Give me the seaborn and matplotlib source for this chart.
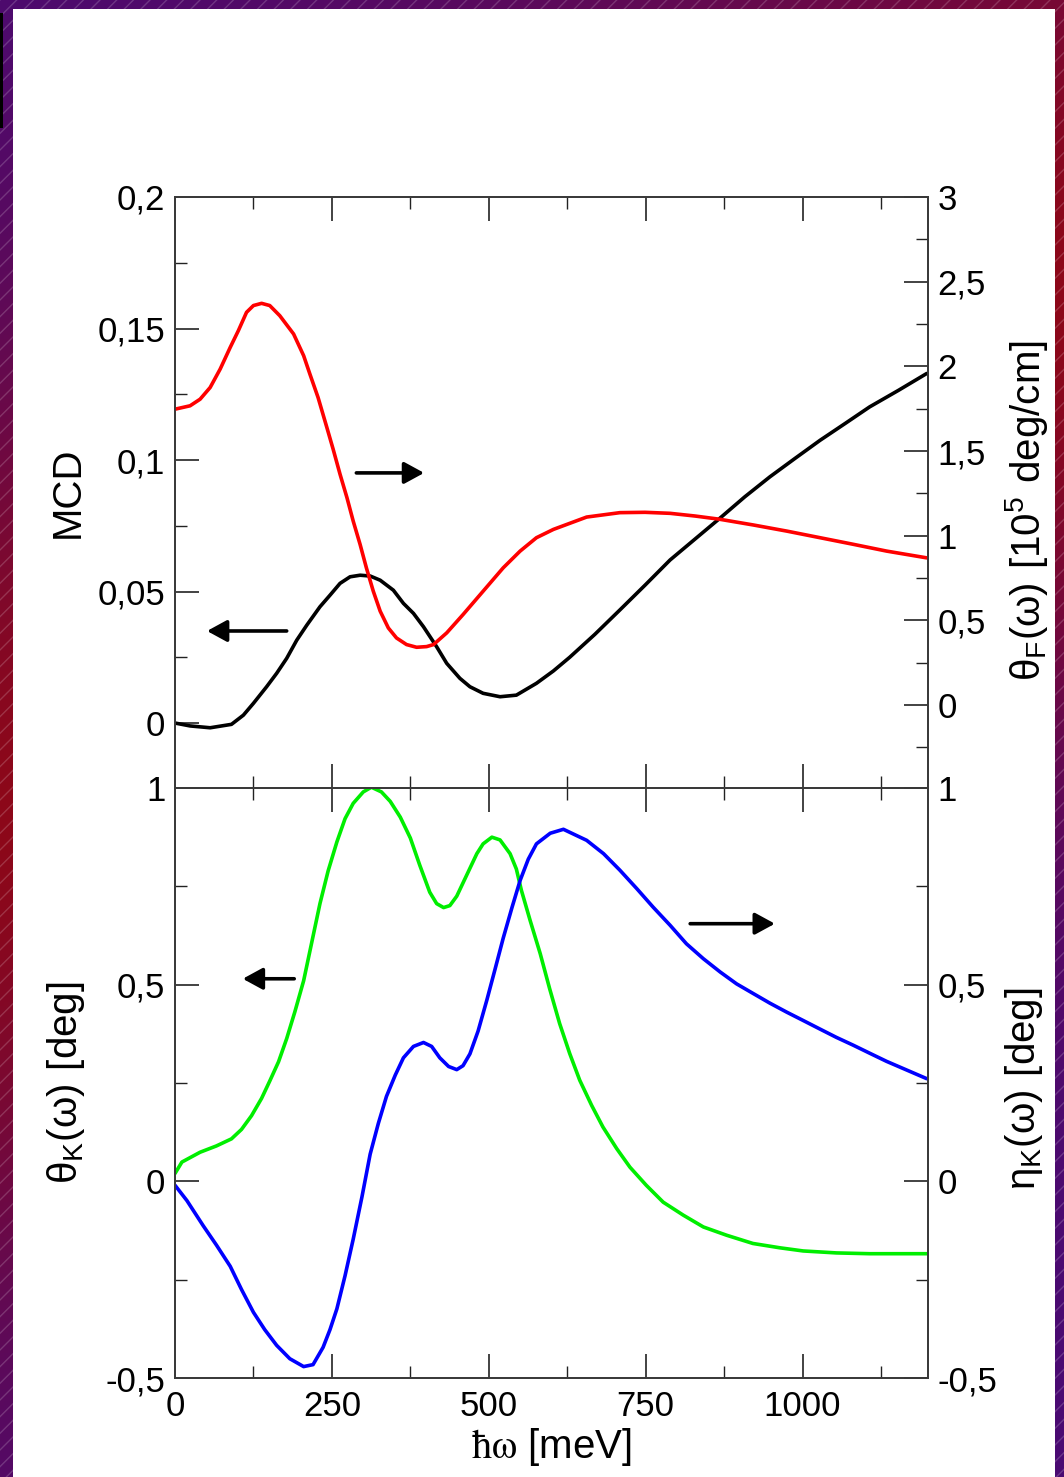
import numpy as np
import matplotlib
matplotlib.use('Agg')
import matplotlib.pyplot as plt
import matplotlib.ticker as mticker
from matplotlib.patches import Rectangle
import seaborn as sns

# values (energy in meV)
mcd_energy = [0, 24, 56, 90, 109, 125, 146, 162, 178, 194, 210, 231, 247, 263, 279, 295,
              311, 327, 348, 364, 380, 396, 417, 433, 454, 470, 491, 518, 544, 576, 603,
              629, 669, 709, 749, 789, 829, 868, 908, 948, 988, 1028, 1068, 1107, 1153,
              1198]
mcd_value = [0.0, -0.0011, -0.0018, -0.0005, 0.0030, 0.0075, 0.0138, 0.0189, 0.0246,
             0.0315, 0.0372, 0.0442, 0.0486, 0.0531, 0.0556, 0.0562, 0.0559, 0.0543,
             0.0505, 0.0455, 0.0417, 0.0366, 0.029, 0.0227, 0.017, 0.0138, 0.0113,
             0.0100, 0.0106, 0.0151, 0.0198, 0.0250, 0.0337, 0.043, 0.0524, 0.062,
             0.070, 0.0778, 0.086, 0.0936, 0.1006, 0.1075, 0.1139, 0.1202, 0.1265, 0.1329]

faraday_energy = [0, 24, 40, 56, 72, 88, 101, 114, 125, 138, 151, 167, 189, 205, 215,
                  228, 242, 252, 263, 274, 284, 295, 305, 316, 327, 340, 353, 369, 385,
                  401, 412, 433, 459, 491, 523, 550, 576, 603, 656, 709, 749, 789, 829,
                  868, 922, 975, 1028, 1081, 1134, 1198]
faraday_value = [1.747, 1.767, 1.806, 1.875, 1.984, 2.112, 2.211, 2.319, 2.359, 2.372,
                 2.359, 2.299, 2.191, 2.063, 1.954, 1.816, 1.639, 1.511, 1.363, 1.225,
                 1.086, 0.948, 0.810, 0.672, 0.554, 0.455, 0.396, 0.357, 0.341, 0.345,
                 0.357, 0.426, 0.534, 0.672, 0.810, 0.909, 0.988, 1.037, 1.110, 1.136,
                 1.138, 1.132, 1.116, 1.097, 1.063, 1.027, 0.988, 0.949, 0.909, 0.869]

kerr_rot_energy = [0, 11, 40, 66, 90, 106, 122, 138, 151, 165, 178, 191, 205, 218, 231,
                   244, 258, 271, 284, 300, 313, 329, 343, 359, 375, 390, 406, 417, 428,
                   438, 449, 465, 481, 491, 505, 518, 534, 544, 552, 566, 582, 597, 613,
                   629, 645, 664, 682, 704, 725, 751, 778, 810, 842, 879, 921, 964, 1001,
                   1054, 1107, 1160, 1198]
kerr_rot_value = [0.020, 0.049, 0.074, 0.090, 0.108, 0.132, 0.167, 0.211, 0.255, 0.304,
                  0.363, 0.431, 0.510, 0.608, 0.706, 0.789, 0.863, 0.922, 0.961, 0.990,
                  1.002, 0.990, 0.966, 0.926, 0.873, 0.804, 0.735, 0.706, 0.696, 0.701,
                  0.725, 0.779, 0.833, 0.858, 0.875, 0.868, 0.833, 0.794, 0.740, 0.663,
                  0.579, 0.490, 0.401, 0.325, 0.257, 0.193, 0.138, 0.083, 0.036, -0.010,
                  -0.053, -0.086, -0.116, -0.137, -0.158, -0.169, -0.177, -0.182, -0.184,
                  -0.184, -0.184]

kerr_ell_energy = [0, 19, 45, 66, 88, 106, 125, 143, 162, 183, 205, 220, 236, 247, 258,
                   271, 284, 298, 311, 324, 337, 351, 364, 380, 396, 409, 422, 436, 449,
                   459, 470, 483, 497, 510, 523, 537, 550, 563, 576, 598, 619, 656, 683,
                   709, 736, 762, 789, 815, 842, 869, 895, 922, 948, 975, 1001, 1028,
                   1054, 1081, 1108, 1134, 1166, 1198]
kerr_ell_value = [-0.010, -0.049, -0.113, -0.162, -0.216, -0.275, -0.333, -0.377,
                  -0.417, -0.451, -0.471, -0.466, -0.422, -0.377, -0.324, -0.240, -0.147,
                  -0.039, 0.069, 0.147, 0.216, 0.270, 0.314, 0.343, 0.353, 0.343, 0.314,
                  0.292, 0.284, 0.294, 0.324, 0.382, 0.461, 0.539, 0.618, 0.696, 0.765,
                  0.819, 0.858, 0.885, 0.895, 0.867, 0.833, 0.791, 0.744, 0.697, 0.651,
                  0.604, 0.566, 0.532, 0.502, 0.477, 0.453, 0.430, 0.409, 0.387, 0.366,
                  0.346, 0.325, 0.305, 0.283, 0.261]

x_major = [0, 250, 500, 750, 1000]
x_minor = [125, 375, 625, 875, 1125]
mcd_major = [0, 0.05, 0.1, 0.15, 0.2]
mcd_minor = [0.025, 0.075, 0.125, 0.175]
far_major = [0, 0.5, 1, 1.5, 2, 2.5, 3]
far_minor = [-0.25, 0.25, 0.75, 1.25, 1.75, 2.25, 2.75]
kerr_major = [-0.5, 0, 0.5, 1]
kerr_minor = [-0.25, 0.25, 0.75]

sns.set_style('ticks')
plt.rcParams['font.family'] = ['Liberation Sans', 'DejaVu Sans']
plt.rcParams['text.color'] = 'black'
plt.rcParams['axes.labelcolor'] = 'black'
plt.rcParams['xtick.color'] = 'black'
plt.rcParams['ytick.color'] = 'black'
plt.rcParams['lines.solid_joinstyle'] = 'round'
plt.rcParams['lines.solid_capstyle'] = 'round'

fig = plt.figure(figsize=(10.64, 14.77), dpi=100)

# slide background: purple/red gradient with faint stripes and a white sheet
bg = fig.add_axes([0, 0, 1, 1], zorder=-10)
bg.set_axis_off()
yy, xx = np.mgrid[0:1477:4, 0:1064:4]
s = yy + 0.5 * xx
wgt = np.exp(-((s - 820) / 480.0) ** 2)
purple = np.array([0.29, 0.04, 0.45])
red = np.array([0.55, 0.03, 0.10])
img = purple + wgt[..., None] * (red - purple)
bg.imshow(img, extent=[0, 1, 0, 1], aspect='auto', origin='upper')
bg.add_patch(Rectangle((0, 0), 1, 1, transform=bg.transAxes, facecolor='none',
                       edgecolor=(1, 1, 1, 0.18), hatch='//', lw=0))
bg.add_patch(Rectangle((13 / 1064, 0), (1055 - 13) / 1064, 1 - 9 / 1477,
                       transform=bg.transAxes, facecolor='white', lw=0, zorder=3))
bg.add_patch(Rectangle((0, 1 - 128 / 1477), 2.5 / 1064, 115 / 1477,
                       transform=bg.transAxes, facecolor='black', lw=0, zorder=3))
bg.set_xlim(0, 1)
bg.set_ylim(0, 1)

left, width = 175 / 1064, 753 / 1064
ax_top = fig.add_axes([left, 1 - 788 / 1477, width, 591 / 1477])
ax_bot = fig.add_axes([left, 1 - 1378 / 1477, width, 590 / 1477])
ax_top2 = ax_top.twinx()
ax_bot2 = ax_bot.twinx()


def comma_fmt(v, pos):
    return f"{v:g}".replace('.', ',')


sns.lineplot(x=mcd_energy, y=mcd_value, ax=ax_top, color='black', lw=2.6,
             estimator=None, legend=False)
sns.lineplot(x=faraday_energy, y=faraday_value, ax=ax_top2, color='#ff0000', lw=2.6,
             estimator=None, legend=False)
sns.lineplot(x=kerr_rot_energy, y=kerr_rot_value, ax=ax_bot, color='#00ee00', lw=2.6,
             estimator=None, legend=False)
sns.lineplot(x=kerr_ell_energy, y=kerr_ell_value, ax=ax_bot2, color='#0000ff', lw=2.6,
             estimator=None, legend=False)

ax_top.set_ylim(-0.0247, 0.2)
ax_top2.set_ylim(-0.49, 3.0)
ax_bot.set_ylim(-0.5, 1.0)
ax_bot2.set_ylim(-0.5, 1.0)

for ax in (ax_top, ax_bot):
    ax.set_xlim(0, 1200)
    ax.xaxis.set_major_locator(mticker.FixedLocator(x_major))
    ax.xaxis.set_minor_locator(mticker.FixedLocator(x_minor))
    ax.xaxis.set_major_formatter(mticker.FuncFormatter(comma_fmt))
    ax.tick_params(axis='x', which='both', direction='in', top=True, bottom=True)

ax_top.yaxis.set_major_locator(mticker.FixedLocator(mcd_major))
ax_top.yaxis.set_minor_locator(mticker.FixedLocator(mcd_minor))
ax_top2.yaxis.set_major_locator(mticker.FixedLocator(far_major))
ax_top2.yaxis.set_minor_locator(mticker.FixedLocator(far_minor))
for ax in (ax_bot, ax_bot2):
    ax.yaxis.set_major_locator(mticker.FixedLocator(kerr_major))
    ax.yaxis.set_minor_locator(mticker.FixedLocator(kerr_minor))

for ax in (ax_top, ax_top2, ax_bot, ax_bot2):
    ax.yaxis.set_major_formatter(mticker.FuncFormatter(comma_fmt))
    ax.tick_params(which='major', direction='in', length=17, width=1.2,
                   labelsize=25, pad=7, color='#222222', labelcolor='black')
    ax.tick_params(which='minor', direction='in', length=8.5, width=1.0,
                   color='#222222')
    ax.tick_params(axis='x', pad=9)
    for sp in ax.spines.values():
        sp.set_color('#3a3a3a')
        sp.set_linewidth(1.3)
        sp.set_visible(True)
    ax.set_xlabel('')

ax_top.tick_params(axis='x', labelbottom=False)
ax_top.set_facecolor('none')
ax_bot.set_facecolor('none')

ax_top.set_ylabel('MCD', fontsize=29)
ax_top2.set_ylabel(r'$\mathregular{\theta_F(\omega)\ [10^5\ deg/cm]}$', fontsize=29)
ax_bot.set_ylabel(r'$\mathregular{\theta_K(\omega)\ [deg]}$', fontsize=29)
ax_bot2.set_ylabel(r'$\mathregular{\eta_K(\omega)\ [deg]}$', fontsize=29)
ax_bot.set_xlabel(r'$\mathrm{ħω}$ [meV]', fontsize=29, math_fontfamily='stix')

ax_top.yaxis.set_label_coords(-0.117, 0.5)
ax_bot.yaxis.set_label_coords(-0.117, 0.5)
ax_top2.yaxis.set_label_coords(1.10, 0.47)
ax_bot2.yaxis.set_label_coords(1.10, 0.49)
ax_bot.xaxis.set_label_coords(0.5, -0.082)

# arrows telling which axis each curve belongs to (tail, head in data units)
arrow_kw = dict(arrowstyle='-|>,head_length=0.55,head_width=0.3', color='black',
                lw=2.6, mutation_scale=22, shrinkA=0, shrinkB=0)
ax_top.annotate('', xy=(397, 0.0951), xytext=(289, 0.0951), arrowprops=arrow_kw)
ax_top.annotate('', xy=(51, 0.035), xytext=(178, 0.035), arrowprops=arrow_kw)
ax_bot.annotate('', xy=(108, 0.515), xytext=(190, 0.515), arrowprops=arrow_kw)
ax_bot.annotate('', xy=(956, 0.655), xytext=(821, 0.655), arrowprops=arrow_kw)

fig.savefig('out.png', dpi=100)
